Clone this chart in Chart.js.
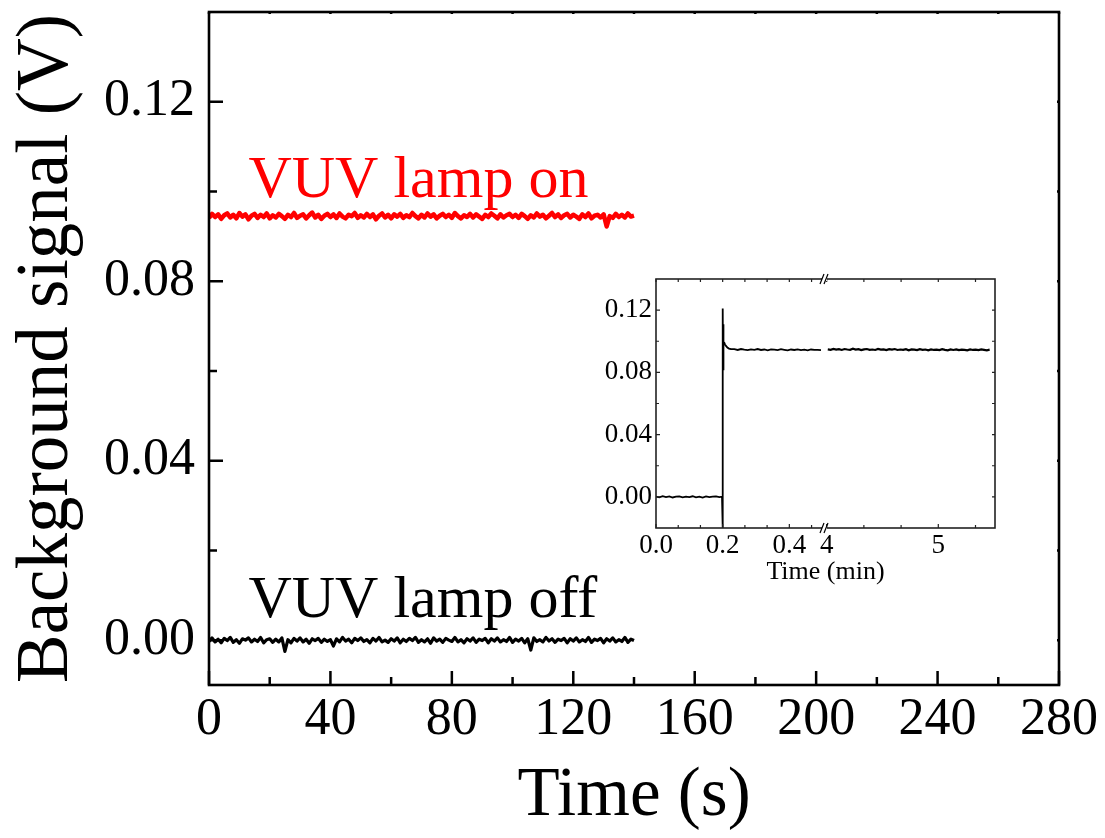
<!DOCTYPE html>
<html>
<head>
<meta charset="utf-8">
<script src="https://cdn.jsdelivr.net/npm/chart.js@4.4.1/dist/chart.umd.min.js"></script>
<style>
  html, body { margin: 0; padding: 0; background: #fff; }
  #wrap { position: relative; width: 1105px; height: 838px; }
  #mainChart { position: absolute; left: 0; top: 0; }
  #insetChart { position: absolute; left: 585px; top: 270px; }
</style>
</head>
<body>
<div id="wrap">
  <canvas id="mainChart" width="1105" height="838"></canvas>
  <canvas id="insetChart" width="420" height="320"></canvas>
</div>
<script>
// main traces: one sample per second, values in mV
var sampleStep = 1;
var lampOnMv = [
  94.1, 95.0, 94.3, 94.9, 93.9, 94.7, 95.1, 94.2, 94.8, 94.0,
  95.2, 94.4, 94.9, 93.8, 94.6, 95.0, 94.1, 94.8, 94.3, 95.1,
  94.0, 94.7, 94.2, 95.0, 94.5, 93.9, 94.8, 94.3, 95.2, 94.1,
  94.6, 94.9, 94.0, 94.7, 95.3, 94.2, 94.8, 93.9, 94.6, 95.0,
  94.3, 94.9, 94.1, 95.1, 94.4, 94.0, 94.8, 94.5, 95.2, 94.1,
  94.7, 94.2, 95.0, 94.3, 94.9, 93.8, 94.6, 95.1, 94.2, 94.8,
  94.0, 94.9, 94.4, 95.0, 94.1, 94.7, 94.3, 95.2, 94.5, 94.0,
  94.8, 94.2, 95.1, 94.4, 94.9, 94.0, 94.6, 95.0, 94.3, 94.8,
  94.1, 95.2, 94.5, 94.0, 94.7, 94.3, 95.0, 94.2, 94.9, 94.4,
  93.9, 94.8, 94.3, 95.1, 94.6, 94.0, 94.9, 94.2, 94.7, 95.0,
  94.3, 94.8, 94.1, 95.0, 94.5, 93.9, 94.7, 94.2, 95.1, 94.4,
  94.8, 94.0, 94.6, 95.2, 94.3, 94.9, 94.1, 94.7, 95.0, 94.2,
  94.8, 94.4, 93.9, 94.9, 94.3, 95.1, 94.0, 94.6, 94.8, 94.2,
  94.9, 92.2, 94.5, 94.1, 95.0, 94.3, 94.8, 94.2, 95.1, 94.4,
  94.6
];
var lampOffMv = [
  -0.3, 0.5, -0.4, 0.2, -0.6, 0.4, -0.1, 0.6, -0.5, 0.1,
  -0.7, 0.3, 0.0, 0.5, -0.4, 0.2, -0.3, 0.6, -0.6, 0.1,
  0.3, -0.5, 0.2, -0.4, 0.5, -2.5, 0.1, -0.6, 0.4, -0.2,
  0.5, -0.4, 0.2, -0.7, 0.3, -0.1, 0.4, -0.5, 0.2, -0.3,
  0.1, -1.3, 0.3, -0.4, 0.6, -0.2, 0.2, -0.6, 0.4, -0.1,
  0.5, -0.3, 0.1, -0.6, 0.4, -0.2, 0.6, -0.4, 0.0, -0.5,
  0.3, -0.2, 0.5, -0.6, 0.2, -0.3, 0.4, -0.1, 0.6, -0.5,
  0.1, -0.4, 0.3, -0.7, 0.5, -0.2, 0.2, -0.5, 0.4, 0.0,
  -0.3, 0.6, -0.4, 0.1, -0.6, 0.3, -0.2, 0.5, -0.5, 0.2,
  -0.1, 0.4, -0.6, 0.3, -0.2, 0.5, -0.4, 0.1, -0.3, 0.6,
  -0.5, 0.2, -0.2, 0.4, -0.6, 0.3, -2.2, 0.5, -0.3, 0.1,
  -0.4, 0.6, -0.2, 0.3, -0.5, 0.2, -0.1, 0.4, -0.6, 0.3,
  -0.2, 0.5, -0.4, 0.1, -0.3, 0.6, -0.5, 0.2, -0.1, 0.4,
  -0.6, 0.3, -0.2, 0.5, -0.4, 0.1, -0.3, 0.6, -0.5, 0.2,
  -0.1
];
var mainXTicks = [0, 40, 80, 120, 160, 200, 240, 280];
var mainXMinor = [20, 60, 100, 140, 180, 220, 260];
var mainYTicks = [0, 0.04, 0.08, 0.12];
var mainYMinor = [0.02, 0.06, 0.10];

// inset: lamp switched on at 0.2 min, then the later part after the axis break
var earlyTime = [
  0.000, 0.010, 0.020, 0.030, 0.040, 0.050, 0.060, 0.070, 0.080, 0.090,
  0.100, 0.110, 0.120, 0.130, 0.140, 0.150, 0.160, 0.170, 0.180, 0.190, 0.198,
  0.1998, 0.2005, 0.2010, 0.2015, 0.2020, 0.2025, 0.2035, 0.2050, 0.2070, 0.2100,
  0.2140, 0.2190, 0.2250,
  0.235, 0.245, 0.255, 0.265, 0.275, 0.285, 0.295, 0.305, 0.315, 0.325,
  0.335, 0.345, 0.355, 0.365, 0.375, 0.385, 0.395, 0.405, 0.415, 0.425,
  0.435, 0.445, 0.455, 0.465, 0.475, 0.485, 0.495
];
var earlyMv = [
  0.2, -0.3, 0.4, -0.2, 0.3, -0.4, 0.1, 0.3, -0.3, 0.2,
  -0.1, 0.4, -0.3, 0.2, -0.4, 0.3, -0.2, 0.1, 0.3, -0.2, 0.1,
  -20.0, 121.0, 82.0, 111.0, 86.0, 104.0, 99.5, 99.0, 98.0, 97.0,
  96.0, 95.3, 94.9,
  94.9, 94.4, 95.0, 94.6, 94.3, 94.8, 94.5, 95.0, 94.4, 94.7,
  94.2, 94.8, 94.6, 94.3, 94.9, 94.5, 94.1, 94.7, 94.4, 94.8,
  94.3, 94.6, 94.2, 94.7, 94.4, 94.5, 94.3
];
var lateStart = 4.01;
var lateStep = 0.025;
var lateMv = [
  94.8, 94.5, 95.1, 94.6, 94.9, 94.4, 95.0, 94.7, 94.5, 95.2,
  94.6, 94.9, 94.3, 94.8, 95.0, 94.5, 94.7, 94.4, 95.1, 94.6,
  94.8, 94.3, 94.9, 94.6, 95.0, 94.4, 94.7, 94.5, 94.9, 94.2,
  94.8, 94.6, 94.3, 94.9, 94.5, 94.7, 94.2, 94.8, 94.4, 94.6,
  94.3, 94.9, 94.5, 94.2, 94.7, 94.4, 94.8, 94.3, 94.6, 94.5,
  94.2, 94.7, 94.4, 94.6, 94.3, 94.8, 94.5, 94.2, 94.6
];
var insetEarlyTicks = [0, 0.2, 0.4];
var insetEarlyMinor = [0.0667, 0.1333, 0.2667, 0.3333, 0.4667];
var insetLateTicks = [4, 5];
var insetLateMinor = [4.3333, 4.6667, 5.3333];
var insetYTicks = [0, 0.04, 0.08, 0.12];
var insetYMinor = [0.02, 0.06, 0.10];

var serif = "'Liberation Serif', 'Times New Roman', serif";

function mvSeries(values, timeAt) {
  return values.map(function(v, i) { return {x: timeAt(i), y: v / 1000}; });
}
function fixTicks(values) {
  return function(scale) {
    scale.ticks = values.map(function(v) { return {value: v}; });
  };
}
// force the axis box size and drop the label overhang padding
function fixSize(prop, size) {
  return function(s) {
    s[prop] = size;
    s.paddingTop = 0; s.paddingBottom = 0;
    s.paddingLeft = 0; s.paddingRight = 0;
  };
}

// box around the plot area with inward major/minor tick marks on all four sides
var frameTicks = {
  id: 'frameTicks',
  afterDatasetsDraw: function(chart, args, o) {
    var ctx = chart.ctx, a = chart.chartArea;
    ctx.save();
    ctx.strokeStyle = o.color;
    ctx.lineWidth = o.tickWidth;
    ctx.beginPath();
    o.x.forEach(function(set) {
      var sc = chart.scales[set.id];
      [[set.major, o.majorLen], [set.minor, o.minorLen]].forEach(function(p) {
        p[0].forEach(function(v) {
          var px = sc.getPixelForValue(v);
          ctx.moveTo(px, a.bottom); ctx.lineTo(px, a.bottom - p[1]);
          ctx.moveTo(px, a.top); ctx.lineTo(px, a.top + o.mirrorLen);
        });
      });
    });
    o.y.forEach(function(set) {
      var sc = chart.scales[set.id];
      [[set.major, o.majorLen], [set.minor, o.minorLen]].forEach(function(p) {
        p[0].forEach(function(v) {
          var py = sc.getPixelForValue(v);
          ctx.moveTo(a.left, py); ctx.lineTo(a.left + p[1], py);
          ctx.moveTo(a.right, py); ctx.lineTo(a.right - o.mirrorLen, py);
        });
      });
    });
    ctx.stroke();
    ctx.lineWidth = o.frameWidth;
    ctx.strokeRect(a.left, a.top, a.right - a.left, a.bottom - a.top);
    ctx.restore();
  }
};

// text labels placed at data coordinates
var traceLabels = {
  id: 'traceLabels',
  afterDraw: function(chart, args, o) {
    var ctx = chart.ctx;
    ctx.save();
    ctx.font = o.font;
    ctx.textBaseline = 'alphabetic';
    o.items.forEach(function(it) {
      ctx.fillStyle = it.color;
      ctx.fillText(it.text, chart.scales.x.getPixelForValue(it.x), chart.scales.y.getPixelForValue(it.y));
    });
    ctx.restore();
  }
};

var mainChart = new Chart(document.getElementById('mainChart'), {
  type: 'line',
  data: {
    datasets: [{
      label: 'VUV lamp on',
      data: mvSeries(lampOnMv, function(i) { return i * sampleStep; }),
      borderColor: '#ff0000',
      borderWidth: 4.5
    }, {
      label: 'VUV lamp off',
      data: mvSeries(lampOffMv, function(i) { return i * sampleStep; }),
      borderColor: '#000000',
      borderWidth: 3.2
    }]
  },
  options: {
    responsive: false,
    animation: false,
    parsing: false,
    elements: { point: { radius: 0 }, line: { tension: 0, borderJoinStyle: 'round' } },
    layout: { padding: { top: 12, right: 46, left: 0, bottom: 0 } },
    plugins: {
      legend: { display: false },
      tooltip: { enabled: false },
      frameTicks: {
        color: '#000', tickWidth: 2.5, frameWidth: 2.6,
        majorLen: 14, minorLen: 8, mirrorLen: 2,
        x: [{ id: 'x', major: mainXTicks, minor: mainXMinor }],
        y: [{ id: 'y', major: mainYTicks, minor: mainYMinor }]
      },
      traceLabels: {
        font: '60px ' + serif,
        items: [
          { text: 'VUV lamp on', x: 13, y: 0.0988, color: '#ff0000' },
          { text: 'VUV lamp off', x: 13, y: 0.0052, color: '#000000' }
        ]
      }
    },
    scales: {
      x: {
        type: 'linear', min: 0, max: 280,
        afterBuildTicks: fixTicks(mainXTicks),
        afterFit: fixSize('height', 153),
        grid: { display: false, drawTicks: false },
        border: { display: false },
        ticks: { color: '#000', font: { family: serif, size: 52 }, padding: 4, maxRotation: 0, autoSkip: false },
        title: { display: true, text: 'Time (s)', color: '#000', font: { family: serif, size: 69 }, padding: 0 }
      },
      y: {
        type: 'linear', min: -0.01, max: 0.14,
        afterBuildTicks: fixTicks(mainYTicks),
        afterFit: fixSize('width', 209),
        grid: { display: false, drawTicks: false },
        border: { display: false },
        ticks: { color: '#000', font: { family: serif, size: 52 }, padding: 14,
          callback: function(v) { return v.toFixed(2); } },
        title: { display: true, text: 'Background signal (V)', color: '#000', font: { family: serif, size: 73 }, padding: { top: 4, bottom: 0 } }
      }
    }
  },
  plugins: [frameTicks, traceLabels]
});

// axis break marks and the shared x title of the inset
var insetDecor = {
  id: 'insetDecor',
  afterDraw: function(chart, args, o) {
    var ctx = chart.ctx, a = chart.chartArea;
    var bx = chart.scales.xEarly.right;
    ctx.save();
    ctx.strokeStyle = '#000';
    ctx.lineWidth = 1.2;
    [a.top, a.bottom].forEach(function(y) {
      ctx.fillStyle = '#fff';
      ctx.fillRect(bx - 3, y - 2, 5, 4);
      ctx.beginPath();
      ctx.moveTo(bx - 5, y + 5); ctx.lineTo(bx - 1, y - 5);
      ctx.moveTo(bx - 1, y + 5); ctx.lineTo(bx + 3, y - 5);
      ctx.stroke();
    });
    ctx.fillStyle = '#000';
    ctx.font = o.font;
    ctx.textAlign = 'center';
    ctx.textBaseline = 'middle';
    ctx.fillText(o.title, (a.left + a.right) / 2, o.titleY);
    ctx.restore();
  }
};

var insetTickFont = { family: serif, size: 27 };
var insetChart = new Chart(document.getElementById('insetChart'), {
  type: 'line',
  data: {
    datasets: [{
      data: mvSeries(earlyMv, function(i) { return earlyTime[i]; }),
      xAxisID: 'xEarly',
      borderColor: '#000', borderWidth: 1.8
    }, {
      data: mvSeries(lateMv, function(i) { return lateStart + i * lateStep; }),
      xAxisID: 'xLate',
      borderColor: '#000', borderWidth: 2.2
    }]
  },
  options: {
    responsive: false,
    animation: false,
    parsing: false,
    elements: { point: { radius: 0 }, line: { tension: 0 } },
    layout: { padding: { top: 9, right: 10, left: 0, bottom: 0 } },
    plugins: {
      legend: { display: false },
      tooltip: { enabled: false },
      frameTicks: {
        color: '#222', tickWidth: 1.2, frameWidth: 1.6,
        majorLen: 4, minorLen: 3, mirrorLen: 3,
        x: [{ id: 'xEarly', major: insetEarlyTicks, minor: insetEarlyMinor },
            { id: 'xLate', major: insetLateTicks, minor: insetLateMinor }],
        y: [{ id: 'y', major: insetYTicks, minor: insetYMinor }]
      },
      insetDecor: { title: 'Time (min)', font: '26px ' + serif, titleY: 302 }
    },
    scales: {
      xEarly: {
        type: 'linear', position: 'bottom', stack: 'time', stackWeight: 169,
        min: 0, max: 0.507,
        afterBuildTicks: fixTicks(insetEarlyTicks),
        afterFit: fixSize('height', 62),
        grid: { display: false, drawTicks: false },
        border: { display: false },
        ticks: { color: '#000', font: insetTickFont, padding: 2, maxRotation: 0, autoSkip: false,
          callback: function(v) { return v.toFixed(1); } }
      },
      xLate: {
        type: 'linear', position: 'bottom', stack: 'time', stackWeight: 170,
        min: 3.985, max: 5.508,
        afterBuildTicks: fixTicks(insetLateTicks),
        afterFit: fixSize('height', 62),
        grid: { display: false, drawTicks: false },
        border: { display: false },
        ticks: { color: '#000', font: insetTickFont, padding: 2, maxRotation: 0, autoSkip: false,
          callback: function(v) { return String(v); } }
      },
      y: {
        type: 'linear', min: -0.02, max: 0.14,
        afterBuildTicks: fixTicks(insetYTicks),
        afterFit: fixSize('width', 71),
        grid: { display: false, drawTicks: false },
        border: { display: false },
        ticks: { color: '#000', font: insetTickFont, padding: 4,
          callback: function(v) { return v.toFixed(2); } }
      }
    }
  },
  plugins: [frameTicks, insetDecor]
});
</script>
</body>
</html>
